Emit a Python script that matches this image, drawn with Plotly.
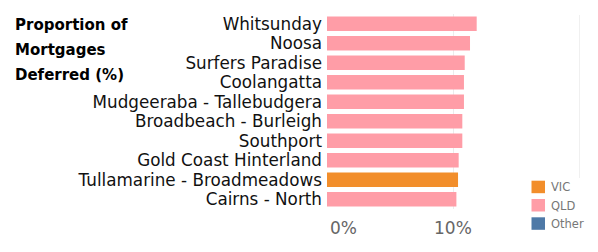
import plotly.graph_objects as go

regions = ["Whitsunday", "Noosa", "Surfers Paradise", "Coolangatta",
           "Mudgeeraba - Tallebudgera", "Broadbeach - Burleigh", "Southport",
           "Gold Coast Hinterland", "Tullamarine - Broadmeadows", "Cairns - North"]
values = [11.88, 11.35, 10.93, 10.87, 10.87, 10.74, 10.74, 10.45, 10.40, 10.27]
states = ["QLD", "QLD", "QLD", "QLD", "QLD", "QLD", "QLD", "QLD", "VIC", "QLD"]

legend_states = ["VIC", "QLD", "Other"]
state_colors = {"VIC": "#F28E2B", "QLD": "#FF9DA7", "Other": "#4E79A7"}

tick_vals = [0, 10]
tick_text = ["0%", "10%"]

title_lines = ["Proportion of", "Mortgages", "Deferred (%)"]

W, H = 598, 252
ML, MR, MT, MB = 327, 88, 14, 43
PW = W - ML - MR
PH = H - MT - MB
px_per_pct = 12.6

fig = go.Figure()
for st in legend_states:
    xs = [v for v, s in zip(values, states) if s == st]
    ys = [r for r, s in zip(regions, states) if s == st]
    if xs:
        fig.add_trace(go.Bar(x=xs, y=ys, orientation="h",
                             marker=dict(color=state_colors[st], line=dict(width=0)),
                             showlegend=False, hoverinfo="x+y"))

fig.update_layout(
    width=W, height=H,
    margin=dict(l=ML, r=MR, t=MT, b=MB, pad=0),
    paper_bgcolor="white", plot_bgcolor="white",
    bargap=0.26, barmode="overlay",
    font=dict(family="DejaVu Sans", color="#000000"),
    showlegend=False,
)
fig.update_xaxes(range=[0, PW / px_per_pct], tickvals=tick_vals, showticklabels=False,
                 showgrid=True, gridcolor="#ececec", gridwidth=1,
                 zeroline=False, showline=False, ticks="", fixedrange=True)
fig.update_yaxes(categoryorder="array", categoryarray=regions, autorange="reversed",
                 tickmode="array", tickvals=regions, ticktext=regions,
                 tickfont=dict(size=16.8, color="#111111", family="DejaVu Sans"),
                 ticks="", showgrid=False, showline=False, ticklabelstandoff=4,
                 fixedrange=True)

# tick labels (first left-aligned at its gridline, as in the reference)
for v, t in zip(tick_vals, tick_text):
    fig.add_annotation(x=v, xref="x", y=0, yref="paper", yanchor="middle",
                       xanchor="left" if v == tick_vals[0] else "center",
                       xshift=1 if v == tick_vals[0] else 0, yshift=-19,
                       text=t, showarrow=False,
                       font=dict(size=17, color="#666666", family="DejaVu Sans"))

# title
for i, line in enumerate(title_lines):
    fig.add_annotation(x=(13 - ML) / PW, xref="paper", xanchor="left",
                       y=(H - MB - (25 + 25 * i)) / PH, yref="paper", yanchor="middle",
                       text="<b>" + line + "</b>", showarrow=False,
                       font=dict(size=15, color="#000000", family="DejaVu Sans"))

# legend
def px2x(p):
    return (p - ML) / PW

def py2y(p):
    return (H - MB - p) / PH

for i, st in enumerate(legend_states):
    top = 180.7 + 18.3 * i
    fig.add_shape(type="rect", xref="paper", yref="paper",
                  x0=px2x(531.5), x1=px2x(545), y0=py2y(top), y1=py2y(top + 12.5),
                  fillcolor=state_colors[st], line=dict(width=0))
    fig.add_annotation(x=px2x(549), xref="paper", xanchor="left",
                       y=py2y(top + 6.5), yref="paper", yanchor="middle",
                       text=st, showarrow=False,
                       font=dict(size=11.5, color="#777777", family="DejaVu Sans"))

# faint separator line
fig.add_shape(type="line", xref="paper", yref="paper",
              x0=px2x(579.5), x1=px2x(579.5), y0=py2y(15), y1=py2y(178),
              line=dict(color="#f0f0f0", width=1))

fig.write_html("out.html")
